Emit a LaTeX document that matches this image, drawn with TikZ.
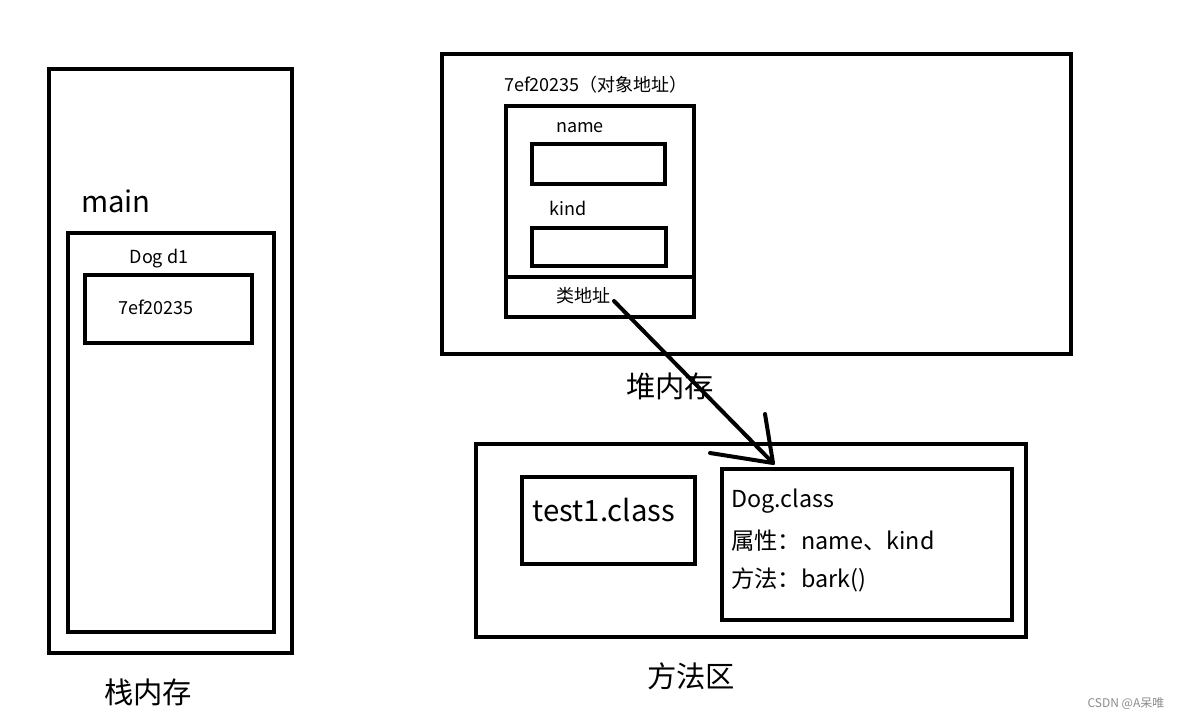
\documentclass[tikz,border=0pt]{standalone}
\usepackage{fontspec}
\setmainfont{Noto Sans CJK SC}
\begin{document}
\begin{tikzpicture}[x=0.75pt,y=-0.75pt,
  box/.style={draw=black,line width=3pt,inner sep=0pt,outer sep=0pt},
  lbl/.style={inner sep=0pt,text=black},
  big/.style={lbl,font=\fontsize{22}{26}\selectfont},
  mid/.style={lbl,font=\fontsize{17.5}{22}\selectfont},
  small/.style={lbl,font=\fontsize{13.5}{16}\selectfont},
  conn/.style={line width=3pt,line cap=round}]
\useasboundingbox[fill=white] (0,0) rectangle (1182,720);
% stack
\draw[box] (49,69) rectangle (292,653);
\draw[box] (68,233) rectangle (274,632);
\draw[box] (85,275) rectangle (252,343);
\node[big] (main) at (116,201) {main};
\node[small] (dogd1) at (159,259) {Dog d1};
\node[small] (addr1) at (156,307) {7ef20235};
\node[big] (stack) at (148,692) {栈内存};
% heap
\draw[box] (442,54) rectangle (1071,354);
\draw[box] (506,106) rectangle (694,317);
\draw[box] (504,277) -- (694,277);
\draw[box] (532,144) rectangle (665,184);
\draw[box] (532,228) rectangle (666,266);
\node[small] (objaddr) at (596,85) {7ef20235（对象地址）};
\node[small] (name) at (580,128) {name};
\node[small] (kind) at (568,208) {kind};
\node[small] (cls) at (583,296) {类地址};
\node[big] (heap) at (670,386) {堆内存};
% method area
\draw[box] (476,444) rectangle (1026,637);
\draw[box] (522,477) rectangle (695,564);
\draw[box] (722,469) rectangle (1012,620);
\node[big] (test) at (604,510) {test1.class};
\node[mid,anchor=west] (dogc) at (731,501) {Dog.class};
\node[mid,anchor=west] (attr) at (731,541) {属性：name、kind};
\node[mid,anchor=west] (meth) at (731,580) {方法：bark()};
\node[big] (marea) at (691,676) {方法区};
% arrow
\coordinate (s) at (614,301);
\coordinate (t) at (773,463);
\coordinate (h1) at (765,414);
\coordinate (h2) at (710,453);
\draw[conn] (s) -- (t);
\draw[conn] (h1) -- (t);
\draw[conn] (h2) -- (t);
% watermark
\node[lbl,text=black!45,font=\fontsize{9}{11}\selectfont] (wm) at (1126,704) {CSDN @A呆唯};
\end{tikzpicture}
\end{document}
